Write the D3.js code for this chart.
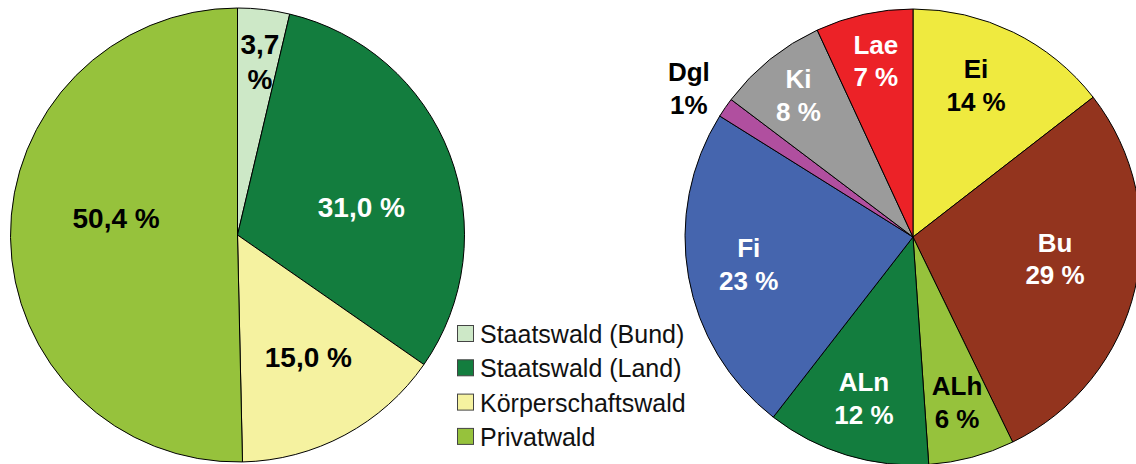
<!DOCTYPE html>
<html>
<head>
<meta charset="utf-8">
<script src="https://cdn.jsdelivr.net/npm/d3@7"></script>
<style>
  body { margin: 0; background: #fff; }
  svg { display: block; font-family: "Liberation Sans", Arial, sans-serif; }
</style>
</head>
<body>
<div id="chart"></div>
<script>
		var width = 1136, height = 464;

		// left pie: ownership
		const ownNames = ['Staatswald (Bund)', 'Staatswald (Land)', 'Körperschaftswald', 'Privatwald'];
		const ownValues = [3.7, 31.0, 15.0, 50.4];
		const ownLabels = [['3,7', '%'], ['31,0 %'], ['15,0 %'], ['50,4 %']];
		const ownColors = ['#cde8c7', '#137d3e', '#f5f2a0', '#96c23c'];
		const ownText = ['#000', '#fff', '#000', '#000'];

		// right pie: tree species
		const spNames = ['Ei', 'Bu', 'ALh', 'ALn', 'Fi', 'Dgl', 'Ki', 'Lae'];
		const spValues = [14.5, 28.3, 6.1, 11.6, 23.4, 1.4, 7.8, 6.9];
		const spPct = ['14 %', '29 %', '6 %', '12 %', '23 %', '1%', '8 %', '7 %'];
		const spColors = ['#efea3f', '#93341e', '#96c23c', '#137d3e', '#4565ae', '#b04f9f', '#9b9b9b', '#ec2227'];
		const spText = ['#000', '#fff', '#000', '#fff', '#fff', '#000', '#fff', '#fff'];

		// label placement: [radius factor, angle shift in degrees]
		var ownPlace = [[0.77, 0.7], [0.56, 8], [0.62, -2], [0.54, 8.5]];
		var spPlace = [[0.72, -3.5], [0.63, -4.5], [0.75, 0], [0.74, 0], [0.73, 0.8], [1.18, -1], [0.8, 0], [0.79, 0.5]];

		var svg = d3.select('#chart')
			.append('svg')
			.attr('width', width)
			.attr('height', height);

		svg.append('rect').attr('width', width).attr('height', height).attr('fill', '#fff');

		function drawPie(cx, cy, r, values, colors, labels, textColors, place, fs) {
			var pie = d3.pie().sort(null).value(function(d){ return d; });
			var arc = d3.arc().innerRadius(0).outerRadius(r);
			var arcs = pie(values);

			var g = svg.append('g').attr('transform', 'translate(' + cx + ',' + cy + ')');

			g.selectAll('path')
				.data(arcs)
				.enter()
				.append('path')
				.attr('d', arc)
				.attr('fill', function(d, i){ return colors[i]; })
				.attr('stroke', '#000')
				.attr('stroke-width', 1)
				.attr('stroke-linejoin', 'round');

			var cap = 0.716 * fs, lh = 1.26 * fs;

			arcs.forEach(function(d, i) {
				var a = (d.startAngle + d.endAngle) / 2 + place[i][1] * Math.PI / 180;
				var p = d3.pointRadial(a, r * place[i][0]);
				var lines = labels[i];
				var b0 = p[1] + (cap - lh * (lines.length - 1)) / 2;
				var t = g.append('text')
					.attr('text-anchor', 'middle')
					.attr('font-size', fs + 'px')
					.attr('font-weight', 'bold')
					.attr('fill', textColors[i]);
				lines.forEach(function(s, j) {
					t.append('tspan')
						.attr('x', p[0])
						.attr('y', b0 + j * lh)
						.text(s);
				});
			});
		}

		drawPie(237.5, 235, 227, ownValues, ownColors, ownLabels, ownText, ownPlace, 28);

		var spLabels = spNames.map(function(n, i){ return [n, spPct[i]]; });
		drawPie(913, 237, 228, spValues, spColors, spLabels, spText, spPlace, 26);

		// legend
		var legend = svg.append('g').attr('transform', 'translate(457,325)');
		var rows = legend.selectAll('g')
			.data(ownNames)
			.enter()
			.append('g')
			.attr('transform', function(d, i){ return 'translate(0,' + (i * 34.3) + ')'; });

		rows.append('rect')
			.attr('x', 0.5).attr('y', 0.5)
			.attr('width', 16).attr('height', 16)
			.attr('fill', function(d, i){ return ownColors[i]; })
			.attr('stroke', '#444')
			.attr('stroke-width', 1);

		rows.append('text')
			.attr('x', 23)
			.attr('y', 18)
			.attr('font-size', '25px')
			.attr('fill', '#111')
			.text(function(d){ return d; });
</script>
</body>
</html>
